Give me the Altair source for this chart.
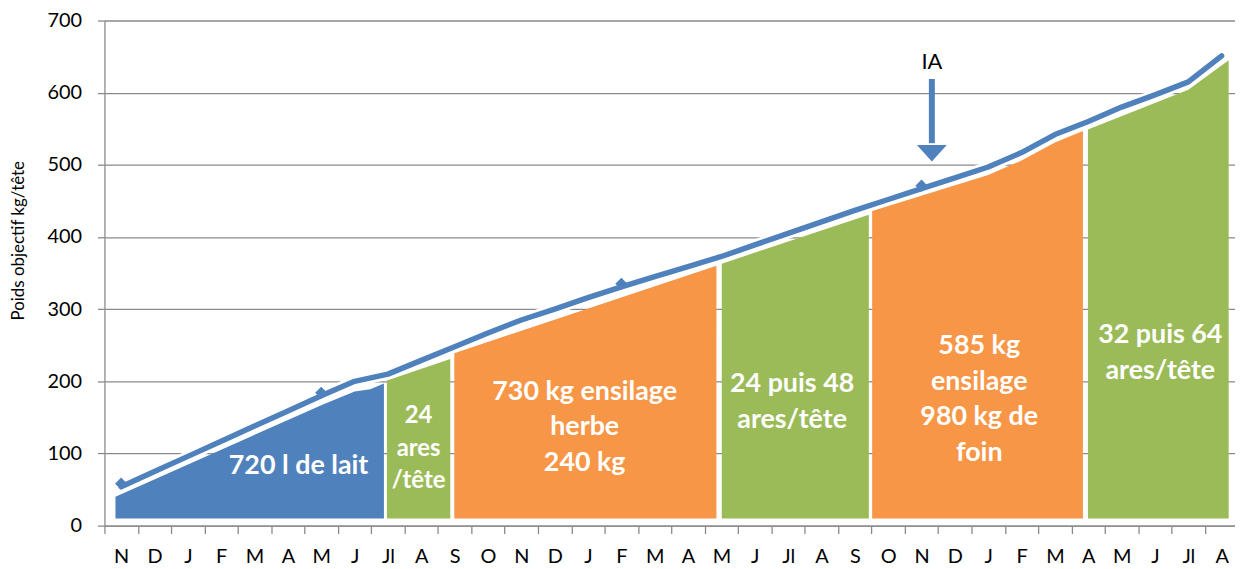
import altair as alt
import pandas as pd

# ---- data ----
months = ["N", "D", "J", "F", "M", "A", "M", "J", "Jl", "A", "S", "O", "N", "D", "J", "F", "M",
          "A", "M", "J", "Jl", "A", "S", "O", "N", "D", "J", "F", "M", "A", "M", "J", "Jl", "A"]
weight = [54, 75, 96, 117, 138, 159, 180, 200, 210, 229, 248, 267, 285, 300, 316, 331, 345,
          359, 373, 389, 405, 421, 437, 452, 467, 482, 497, 517, 542, 560, 580, 597, 615, 651]
marker_months = [0, 6, 15, 24]

seg_kind = ["lait", "herbe", "stock", "herbe", "stock", "herbe"]
seg_x = [[0.33, 6.5, 7.5, 7.97, 8.38], [8.47, 10.37], [10.49, 18.35], [18.51, 22.92],
         [23.02, 26.5, 27.5, 28.5, 29.34], [29.49, 32.5, 33.71]]
seg_top = [[40, 167, 186, 189, 197], [201, 231], [239, 360], [363, 431],
           [436, 486, 506, 531, 547], [549, 604, 645]]
seg_floor = 10

label_text = ["720 l de lait", "730 kg ensilage\nherbe\n240 kg", "24 puis 48\nares/tête",
              "585 kg\nensilage\n980 kg de\nfoin", "32 puis 64\nares/tête"]
label_x = [5.82, 14.4, 20.62, 26.23, 31.66]
label_y = [82.6, 185.6, 196.2, 249.2, 264.3]   # first line of each block
small_label_text = ["24\nares\n/tête"]
small_label_x = [9.42]
small_label_y = [151.2]

ia_label = ["IA"]
ia_x = [24.81]
ia_label_y = [642]
ia_arrow_from = [619]
ia_arrow_to = [530]
ia_head_y = [516]

y_ticks = [0, 100, 200, 300, 400, 500, 600, 700]

# ---- styles ----
BLUE = "#4F81BD"
GREEN = "#9BBB59"
ORANGE = "#F79646"
GRAY = "#8a8a8a"
FONT = "Lato"

# ---- tables ----
line_df = pd.DataFrame({"x": [i + 0.5 for i in range(len(months))], "w": weight})
mk_df = line_df.iloc[marker_months].reset_index(drop=True)
rows = []
for s, (k, xs, ts) in enumerate(zip(seg_kind, seg_x, seg_top)):
    for xv, tv in zip(xs, ts):
        rows.append({"seg": s, "kind": k, "x": xv, "top": tv, "floor": seg_floor})
area_df = pd.DataFrame(rows)
lab_df = pd.DataFrame({"t": label_text, "x": label_x, "y": label_y})
slab_df = pd.DataFrame({"t": small_label_text, "x": small_label_x, "y": small_label_y})
ia_df = pd.DataFrame({"t": ia_label, "x": ia_x, "ty": ia_label_y, "a0": ia_arrow_from,
                      "a1": ia_arrow_to, "h": ia_head_y})

label_expr = "[" + ",".join("'" + m + "'" for m in months) + "][datum.value]"

xscale = alt.Scale(domain=[0, 33.9], nice=False, zero=False)
xaxis = alt.Axis(values=list(range(len(months))), labelExpr=label_expr, labelOffset=16.8,
                 labelAlign="center", labelFlush=False, labelOverlap=False, grid=False,
                 tickSize=8, tickColor=GRAY, tickWidth=1.3, domainColor=GRAY, domainWidth=1.3,
                 labelFont=FONT, labelFontSize=20, labelColor="black", labelPadding=13,
                 title=None)
yscale = alt.Scale(domain=[0, 700], nice=False, zero=True)
yaxis = alt.Axis(values=y_ticks, grid=True, gridColor=GRAY, gridWidth=1.3, tickSize=7,
                 tickColor=GRAY, tickWidth=1.3, domainColor=GRAY, domainWidth=1.3,
                 labelFont=FONT, labelFontSize=20, labelColor="black", labelPadding=16,
                 title="Poids objectif kg/tête", titleFont=FONT, titleFontSize=17,
                 titleFontWeight="normal", titleColor="black", titleX=-86, titleY=221,
                 titleAngle=270, titleAlign="center", titleBaseline="middle")


def X(field):
    return alt.X(field, type="quantitative", scale=xscale, axis=xaxis)


def Y(field):
    return alt.Y(field, type="quantitative", scale=yscale, axis=yaxis, stack=None)


area_layers = []
for s, k in enumerate(seg_kind):
    col = {"lait": BLUE, "herbe": GREEN, "stock": ORANGE}[k]
    area_layers.append(
        alt.Chart(area_df).transform_filter(alt.datum.seg == s)
        .mark_area(color=col, opacity=1, interpolate="linear")
        .encode(x=X("x"), y=Y("top"), y2=alt.Y2("floor"))
    )

halo = alt.Chart(line_df).mark_line(color="white", strokeWidth=11, strokeCap="round",
                                    strokeJoin="round").encode(x=X("x"), y=Y("w"))
diamonds = alt.Chart(mk_df).mark_point(shape="diamond", filled=True, size=150, color=BLUE,
                                       opacity=1, yOffset=-3).encode(x=X("x"), y=Y("w"))
line = alt.Chart(line_df).mark_line(color=BLUE, strokeWidth=5.5, strokeCap="round",
                                    strokeJoin="round").encode(x=X("x"), y=Y("w"))

labels = alt.Chart(lab_df).mark_text(font=FONT, fontWeight="bold", fontSize=27, color="white",
                                     lineBreak="\n", lineHeight=36, align="center",
                                     baseline="middle").encode(x=X("x"), y=Y("y"), text="t:N")
slabels = alt.Chart(slab_df).mark_text(font=FONT, fontWeight="bold", fontSize=24, color="white",
                                       lineBreak="\n", lineHeight=32.5, align="center",
                                       baseline="middle").encode(x=X("x"), y=Y("y"), text="t:N")

ia_rule = alt.Chart(ia_df).mark_rule(color=BLUE, strokeWidth=6).encode(
    x=X("x"), y=Y("a0"), y2=alt.Y2("a1"))
ia_head = alt.Chart(ia_df).mark_point(shape="M-1,-0.55L1,-0.55L0,0.55Z", filled=True, size=900,
                                      color=BLUE, opacity=1, strokeWidth=0).encode(
    x=X("x"), y=Y("h"))
ia_text = alt.Chart(ia_df).mark_text(font=FONT, fontSize=22, color="black", align="center",
                                     baseline="middle").encode(x=X("x"), y=Y("ty"), text="t:N")

chart = alt.layer(*area_layers, halo, diamonds, line, labels, slabels, ia_rule, ia_head,
                  ia_text).properties(
    width=1137, height=508,
    padding={"left": 97, "top": 11, "right": 0, "bottom": 40},
    autosize=alt.AutoSizeParams(type="none"),
    background="white",
).configure_view(stroke=None)

chart.save("out.html", embed_options={"renderer": "svg", "actions": False})
